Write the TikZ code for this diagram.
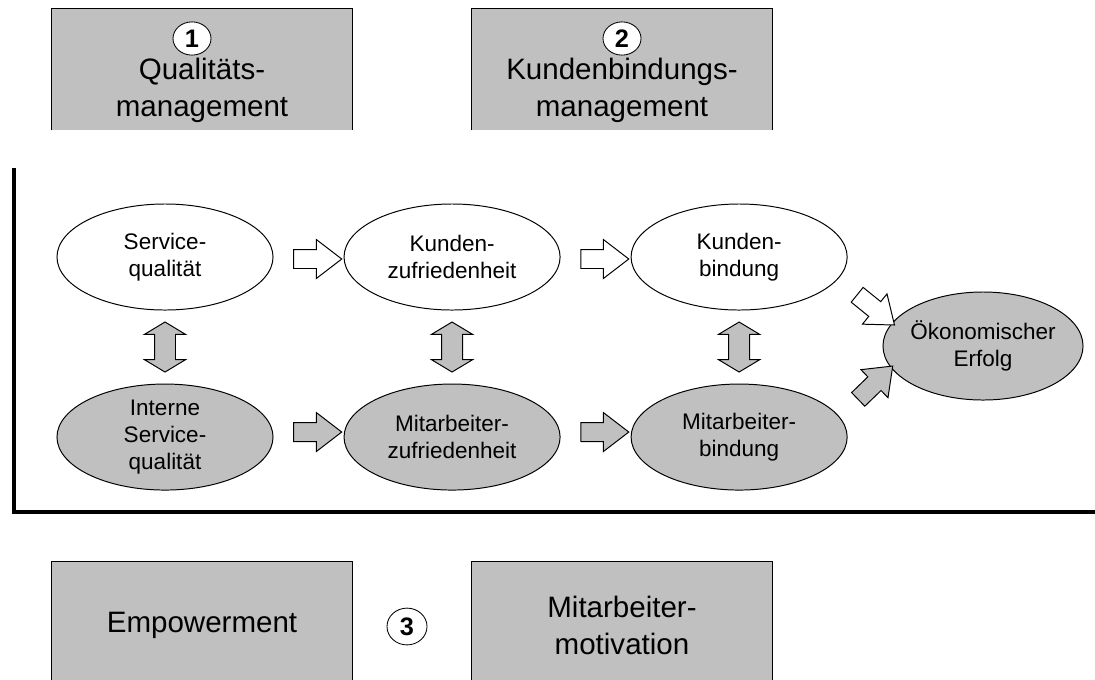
\documentclass[tikz,border=0pt]{standalone}
\usepackage{fontspec}
\setmainfont{Liberation Sans}
\usetikzlibrary{shapes.geometric, shapes.arrows, positioning, calc}

\definecolor{boxgray}{RGB}{192,192,192}

\begin{document}
\begin{tikzpicture}[x=0.025cm, y=-0.025cm, node distance=1.75cm,
    oval/.style={draw, ellipse, line width=0.7pt, inner sep=0pt, minimum width=5.4cm, minimum height=2.65cm, align=center, font=\fontsize{16}{19}\selectfont},
    panel/.style={fill=boxgray, minimum width=7.5cm},
    paneltext/.style={align=center, inner sep=0pt, font=\fontsize{21}{26.3}\selectfont},
    numtag/.style={draw, fill=white, ellipse, line width=0.6pt, inner sep=0pt, minimum width=0.95cm, minimum height=0.83cm, font=\fontsize{18}{18}\selectfont\bfseries},
    flowarrow/.style={draw, single arrow, line width=0.7pt, inner xsep=0pt, inner ysep=0.225cm, minimum height=1.2cm, minimum width=0.95cm, single arrow head extend=0.25cm, single arrow tip angle=75},
    linkarrow/.style={draw, double arrow, fill=boxgray, line width=0.7pt, inner xsep=0pt, inner ysep=0.25cm, rotate=90, minimum height=1.25cm, minimum width=1cm, double arrow head extend=0.25cm, double arrow tip angle=118}]
    \useasboundingbox (0,0) rectangle (1095,679);

    % upper panels
    \node (qual_mgmt) [panel, minimum height=3.025cm] at (202,69.5) {};
    \node (kb_mgmt) [panel, minimum height=3.025cm] at (622,69.5) {};
    \draw[line width=0.7pt] (qual_mgmt.south west) |- (qual_mgmt.north east) -- (qual_mgmt.south east);
    \draw[line width=0.7pt] (kb_mgmt.south west) |- (kb_mgmt.north east) -- (kb_mgmt.south east);
    \node (qual_txt) [paneltext] at (202,90) {Qualitäts-\\management};
    \node (kb_txt) [paneltext] at (622,90) {Kundenbindungs-\\management};
    \node (num1) [numtag] at (192,38.5) {1};
    \node (num2) [numtag] at (622,38.5) {2};

    % frame
    \coordinate (frame_top) at (14,168);
    \coordinate (frame_end) at (1100,512);
    \draw[line width=2.7pt] (frame_top) |- (frame_end);

    % chain
    \node (serv_qual) [oval, fill=white] at (165,257) {Service-\\qualität};
    \node (kund_zuf) [oval, fill=white, right=of serv_qual] {Kunden-\\zufriedenheit};
    \node (kund_bind) [oval, fill=white, right=of kund_zuf] {Kunden-\\bindung};
    \node (int_serv) [oval, fill=boxgray, below=1.825cm of serv_qual] {Interne\\Service-\\qualität};
    \node (mit_zuf) [oval, fill=boxgray, right=of int_serv] {Mitarbeiter-\\zufriedenheit};
    \node (mit_bind) [oval, fill=boxgray, right=of mit_zuf] {Mitarbeiter-\\bindung};
    \node (oek_erf) [oval, fill=boxgray, minimum width=5cm, minimum height=2.7cm, inner xsep=-1.5pt] at (983,346) {Ökonomischer\\Erfolg};

    \node (arr_sq) [flowarrow, fill=white] at ($(serv_qual.east)!0.5!(kund_zuf.west)+(3,2)$) {};
    \node (arr_kz) [flowarrow, fill=white] at ($(kund_zuf.east)!0.5!(kund_bind.west)+(3,2)$) {};
    \node (arr_is) [flowarrow, fill=boxgray] at ($(int_serv.east)!0.5!(mit_zuf.west)+(3,-5)$) {};
    \node (arr_mz) [flowarrow, fill=boxgray] at ($(mit_zuf.east)!0.5!(mit_bind.west)+(3,-5)$) {};
    \node (arr_kb) [flowarrow, fill=white, rotate=-39] at (871,306) {};
    \node (arr_mb) [flowarrow, fill=boxgray, rotate=44] at (871,387) {};

    \node (lnk_1) [linkarrow] at ($(serv_qual.south)!0.5!(int_serv.north)$) {};
    \node (lnk_2) [linkarrow] at ($(kund_zuf.south)!0.5!(mit_zuf.north)$) {};
    \node (lnk_3) [linkarrow] at ($(kund_bind.south)!0.5!(mit_bind.north)$) {};

    % lower panels
    \node (empow) [panel, draw, line width=0.7pt, minimum height=3.2cm, font=\fontsize{21}{26.3}\selectfont] at (202,625) {Empowerment};
    \node (mit_mot) [panel, draw, line width=0.7pt, minimum height=3.2cm, align=center, font=\fontsize{21}{26.3}\selectfont] at (622,625) {Mitarbeiter-\\motivation};
    \node (num3) [numtag, minimum width=1cm, minimum height=0.92cm] at (407,626.5) {3};
\end{tikzpicture}
\end{document}
